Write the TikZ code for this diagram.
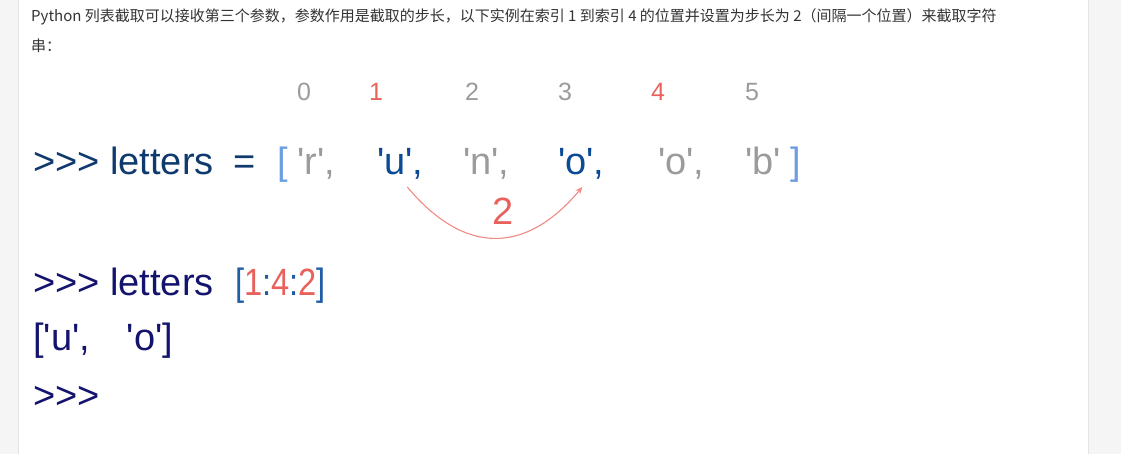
\documentclass[tikz,border=0pt]{standalone}
\usepackage{fontspec}
\setmainfont{Liberation Sans}
\newfontfamily\cjk{Noto Sans CJK SC}
\usepackage{graphicx}
\usetikzlibrary{arrows.meta,positioning,calc}

\definecolor{pagegray}{HTML}{F5F5F5}
\definecolor{edgegray}{HTML}{E4E4E4}
\definecolor{bodytext}{HTML}{333333}
\definecolor{promptblue}{HTML}{0E3A6E}
\definecolor{navy}{HTML}{14146E}
\definecolor{idxgray}{HTML}{9B9B9B}
\definecolor{hotred}{HTML}{E8615C}
\definecolor{arcred}{HTML}{F08A82}
\definecolor{lightbrk}{HTML}{6E9EE2}
\definecolor{pickblue}{HTML}{0B4A95}
\definecolor{brkblue}{HTML}{1F5DA8}

\newcommand{\pyq}{\textquotesingle}
\newcommand{\pyprompt}{>\kern0pt>\kern0pt>}

\begin{document}
\begin{tikzpicture}[
    x=1pt, y=-1pt,
    big/.style={anchor=base west, inner sep=0pt, font=\fontsize{38}{38}\selectfont},
    idx/.style={anchor=base, inner sep=0pt, font=\fontsize{25}{25}\selectfont, text=idxgray},
    intro/.style={anchor=base west, inner sep=0pt, font=\cjk\fontsize{15}{15}\selectfont, text=bodytext},
    jump/.style={draw=arcred, line width=1.1pt, -{Stealth[length=7pt,width=6pt]}}
]
    % page frame
    \useasboundingbox (0,0) rectangle (1121,454);
    \fill[pagegray] (0,0) rectangle (18,454);
    \fill[pagegray] (1088,0) rectangle (1121,454);
    \draw[edgegray] (18,0) -- (18,454);
    \draw[edgegray] (1088,0) -- (1088,454);

    % intro text
    \node[intro] (intro_1) at (31,22) {Python 列表截取可以接收第三个参数，参数作用是截取的步长，以下实例在索引 1 到索引 4 的位置并设置为步长为 2（间隔一个位置）来截取字符};
    \node[intro] (intro_2) at (31,52) {串：};

    % indices
    \node[idx] (idx_0) at (304,101) {0};
    \node[idx, text=hotred] (idx_1) at (376,101) {1};
    \node[idx] (idx_2) at (472,101) {2};
    \node[idx] (idx_3) at (565,101) {3};
    \node[idx, text=hotred] (idx_4) at (658,101) {4};
    \node[idx] (idx_5) at (752,101) {5};

    % list assignment
    \node[big, text=promptblue] (prompt) at (33,175) {\pyprompt{} letters};
    \node[big, text=promptblue] (eq) at (233,175) {=};
    \node[big, text=lightbrk] (open) at (277,175) {[};
    \node[big, text=idxgray] (item_r) at (297,175) {\pyq r\pyq,};
    \node[big, text=pickblue] (item_u) at (377,175) {\pyq u\pyq,};
    \node[big, text=idxgray] (item_n) at (463,175) {\pyq n\pyq,};
    \node[big, text=pickblue] (item_o) at (558,175) {\pyq o\pyq,};
    \node[big, text=idxgray] (item_o2) at (658,175) {\pyq o\pyq,};
    \node[big, text=idxgray] (item_b) at (745,175) {\pyq b\pyq};
    \node[big, text=lightbrk] (close) at (790,175) {]};

    % step of 2
    \draw[jump] ([xshift=7pt,yshift=-7pt]item_u.south) to[out=-50, in=-130, looseness=1.3] ([xshift=1pt,yshift=-7pt]item_o.south);
    \node[big, anchor=center, text=hotred] (jump_len) at (503,211) {2};

    % slicing
    \node[big, text=navy] (call) at (33,295) {\pyprompt{} letters};
    \node[big, text=brkblue] (slice) at (235,295) {\scalebox{0.86}[1]{[\textcolor{hotred}{1}:\textcolor{hotred}{4}:\textcolor{hotred}{2}]}};
    \node[big, text=navy] (result) at (33,350) {[\pyq u\pyq,\hspace{37pt}\pyq o\pyq]};
    \node[big, text=navy] (next_prompt) at (33,408) {\pyprompt};

\end{tikzpicture}
\end{document}
